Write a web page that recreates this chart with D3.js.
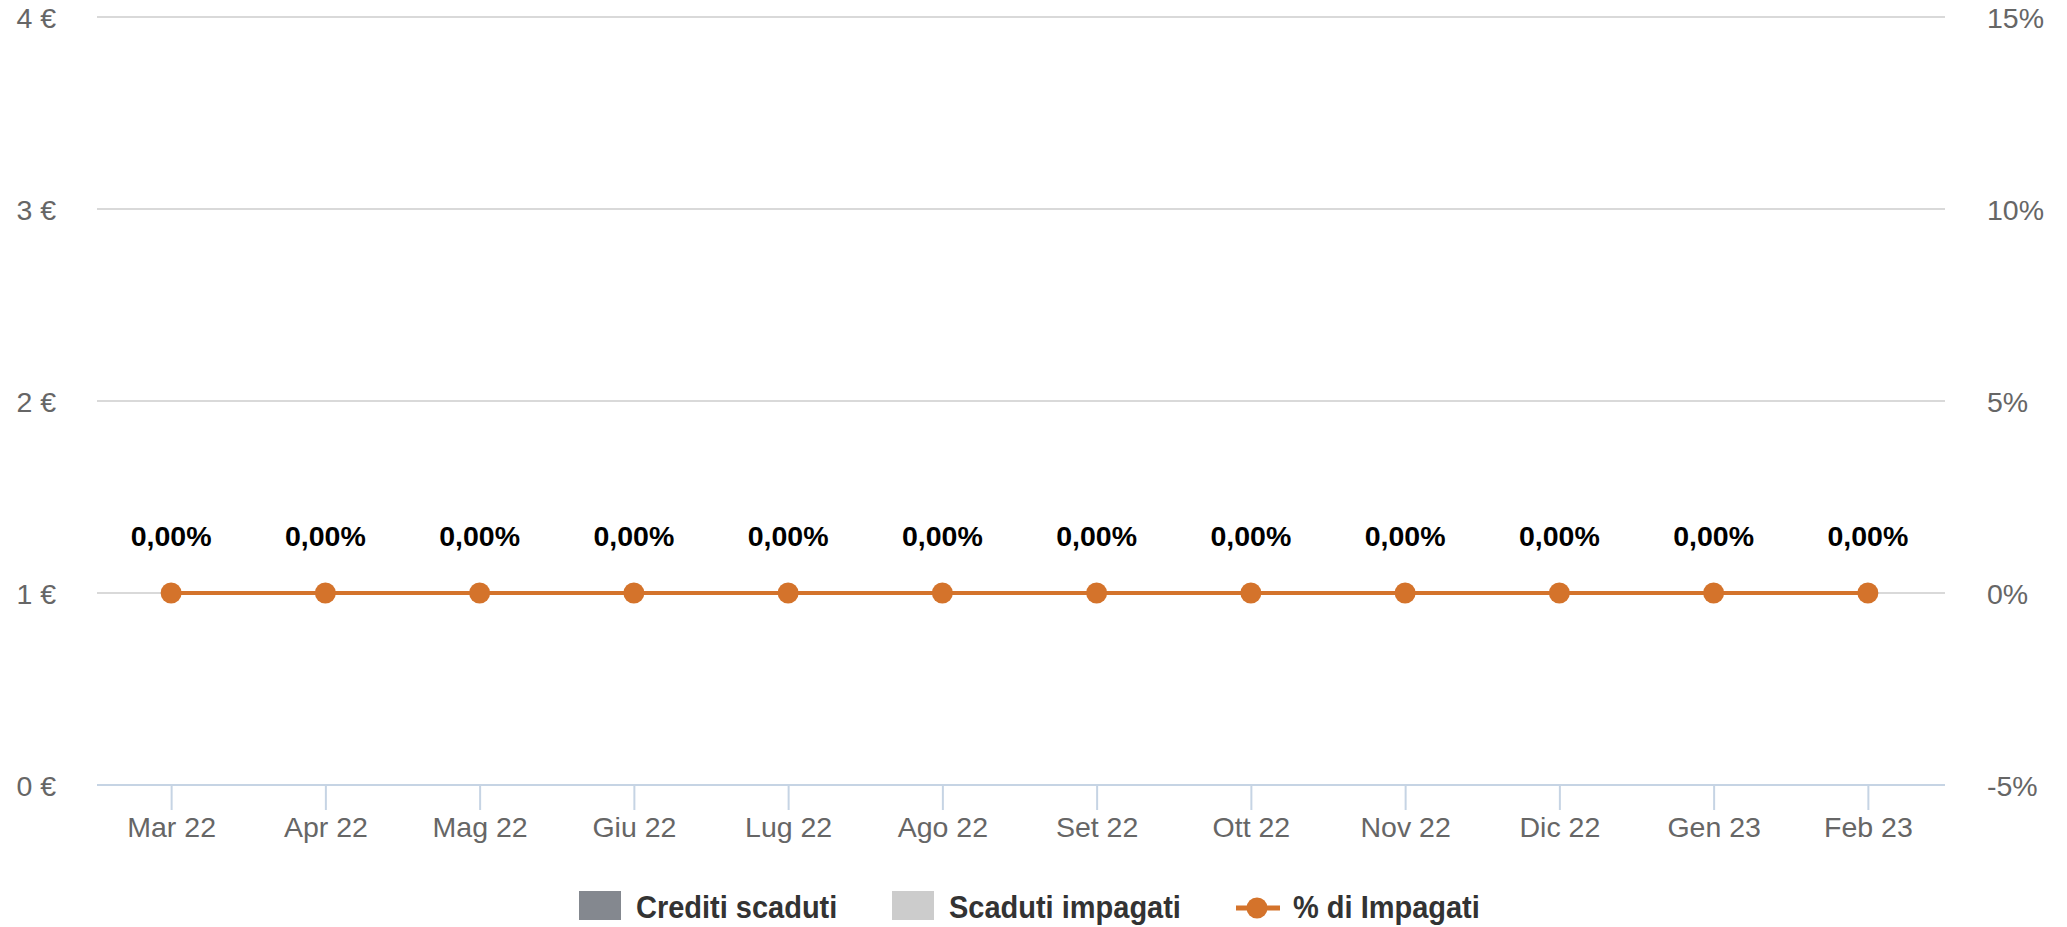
<!DOCTYPE html>
<meta charset="utf-8">
<style>

html, body {
  margin: 0;
  padding: 0;
  background: #fff;
}

svg {
  display: block;
  font-family: "Liberation Sans", Arial, sans-serif;
}

.grid line {
  stroke: #d9d9d9;
  stroke-width: 2px;
}

.axis-left text, .axis-right text, .axis-x text {
  fill: #666;
  font-size: 28.5px;
}

.axis-x line, .axis-x path {
  stroke: #c6d4e4;
  stroke-width: 2px;
}

.data-label {
  font-size: 28.5px;
  font-weight: bold;
  fill: #000;
}

.legend text {
  font-size: 29px;
  font-weight: bold;
  fill: #333;
}

</style>
<svg class="chart"></svg>
<script src="https://d3js.org/d3.v7.min.js"></script>
<script>

var width = 2067;
var height = 927;

var months = ['Mar 22', 'Apr 22', 'Mag 22', 'Giu 22', 'Lug 22', 'Ago 22',
              'Set 22', 'Ott 22', 'Nov 22', 'Dic 22', 'Gen 23', 'Feb 23'];
var creditiScaduti = [0, 0, 0, 0, 0, 0, 0, 0, 0, 0, 0, 0];
var scadutiImpagati = [0, 0, 0, 0, 0, 0, 0, 0, 0, 0, 0, 0];
var pctImpagati = [0, 0, 0, 0, 0, 0, 0, 0, 0, 0, 0, 0];
var leftTicks = [0, 1, 2, 3, 4];
var rightTicks = [-5, 0, 5, 10, 15];

var legendItems = [
  {name: 'Crediti scaduti', type: 'bar', color: '#84888f'},
  {name: 'Scaduti impagati', type: 'bar', color: '#cccccc'},
  {name: '% di Impagati', type: 'line', color: '#d4732b'}
];

var plot = {left: 97, right: 1945, top: 17, bottom: 785};

var svg = d3.select('svg.chart')
  .attr('width', width)
  .attr('height', height);

var x = d3.scalePoint()
  .domain(months)
  .range([94, plot.right])
  .padding(0.5);

var band = d3.scaleBand()
  .domain(months)
  .range([94, plot.right])
  .paddingInner(0.2)
  .paddingOuter(0.1);

var yLeft = d3.scaleLinear()
  .domain([0, 4])
  .range([plot.bottom, plot.top]);

var yRight = d3.scaleLinear()
  .domain([-5, 15])
  .range([plot.bottom, plot.top]);

// grid lines (left axis)
svg.append('g')
    .attr('class', 'grid')
  .selectAll('line')
  .data(leftTicks.filter(function (d) { return d > 0; }))
  .enter().append('line')
    .attr('x1', plot.left)
    .attr('x2', plot.right)
    .attr('y1', function (d) { return yLeft(d); })
    .attr('y2', function (d) { return yLeft(d); });

// left axis
var leftAxis = svg.append('g')
    .attr('class', 'axis-left')
    .attr('transform', 'translate(56,0)')
    .call(d3.axisLeft(yLeft).tickValues(leftTicks).tickSize(0).tickPadding(0)
      .tickFormat(function (d) { return d + ' €'; }));
leftAxis.select('.domain').remove();
leftAxis.selectAll('text').attr('dy', '0.36em');

// right axis
var rightAxis = svg.append('g')
    .attr('class', 'axis-right')
    .attr('transform', 'translate(1987,0)')
    .call(d3.axisRight(yRight).tickValues(rightTicks).tickSize(0).tickPadding(0)
      .tickFormat(function (d) { return d + '%'; }));
rightAxis.select('.domain').remove();
rightAxis.selectAll('text').attr('dy', '0.36em');

// bars (all zero)
var barW = band.bandwidth() / 2;
svg.append('g')
  .selectAll('rect.cs')
  .data(creditiScaduti)
  .enter().append('rect')
    .attr('fill', legendItems[0].color)
    .attr('x', function (d, i) { return band(months[i]); })
    .attr('width', barW)
    .attr('y', function (d) { return yLeft(d); })
    .attr('height', function (d) { return yLeft(0) - yLeft(d); });

svg.append('g')
  .selectAll('rect.si')
  .data(scadutiImpagati)
  .enter().append('rect')
    .attr('fill', legendItems[1].color)
    .attr('x', function (d, i) { return band(months[i]) + barW; })
    .attr('width', barW)
    .attr('y', function (d) { return yLeft(d); })
    .attr('height', function (d) { return yLeft(0) - yLeft(d); });

// x axis
var xAxis = svg.append('g')
    .attr('class', 'axis-x')
    .attr('transform', 'translate(0,' + plot.bottom + ')')
    .call(d3.axisBottom(x).tickSize(25).tickPadding(5).tickSizeOuter(0));
xAxis.select('.domain').attr('d', 'M' + plot.left + ',0H' + plot.right);
xAxis.selectAll('text').attr('dy', '0.78em').style('stroke', 'none');

// line series
var line = d3.line()
  .x(function (d, i) { return x(months[i]); })
  .y(function (d) { return yRight(d); });

svg.append('path')
    .datum(pctImpagati)
    .attr('fill', 'none')
    .attr('stroke', legendItems[2].color)
    .attr('stroke-width', 4)
    .attr('d', line);

svg.append('g')
  .selectAll('circle')
  .data(pctImpagati)
  .enter().append('circle')
    .attr('cx', function (d, i) { return x(months[i]); })
    .attr('cy', function (d) { return yRight(d); })
    .attr('r', 10.5)
    .attr('fill', legendItems[2].color);

svg.append('g')
  .selectAll('text')
  .data(pctImpagati)
  .enter().append('text')
    .attr('class', 'data-label')
    .attr('text-anchor', 'middle')
    .attr('x', function (d, i) { return x(months[i]); })
    .attr('y', function (d) { return yRight(d) - 47; })
    .text(function (d) { return d.toFixed(2).replace('.', ',') + '%'; });

// legend
var legendX = [579, 892, 1236];
var legend = svg.append('g')
    .attr('class', 'legend')
  .selectAll('g')
  .data(legendItems)
  .enter().append('g')
    .attr('transform', function (d, i) { return 'translate(' + legendX[i] + ',0)'; });

legend.filter(function (d) { return d.type === 'bar'; })
  .append('rect')
    .attr('y', 891)
    .attr('width', 42)
    .attr('height', 29)
    .attr('fill', function (d) { return d.color; });

var lineItem = legend.filter(function (d) { return d.type === 'line'; });
lineItem.append('line')
    .attr('x1', 0).attr('x2', 44)
    .attr('y1', 908).attr('y2', 908)
    .attr('stroke', function (d) { return d.color; })
    .attr('stroke-width', 5);
lineItem.append('circle')
    .attr('cx', 21).attr('cy', 908).attr('r', 10.5)
    .attr('fill', function (d) { return d.color; });

legend.append('text')
    .attr('x', function (d) { return d.type === 'bar' ? 57 : 57; })
    .attr('y', 918)
    .attr('transform', 'translate(0,918) scale(1,1.1) translate(0,-918)')
    .text(function (d) { return d.name; });

</script>
